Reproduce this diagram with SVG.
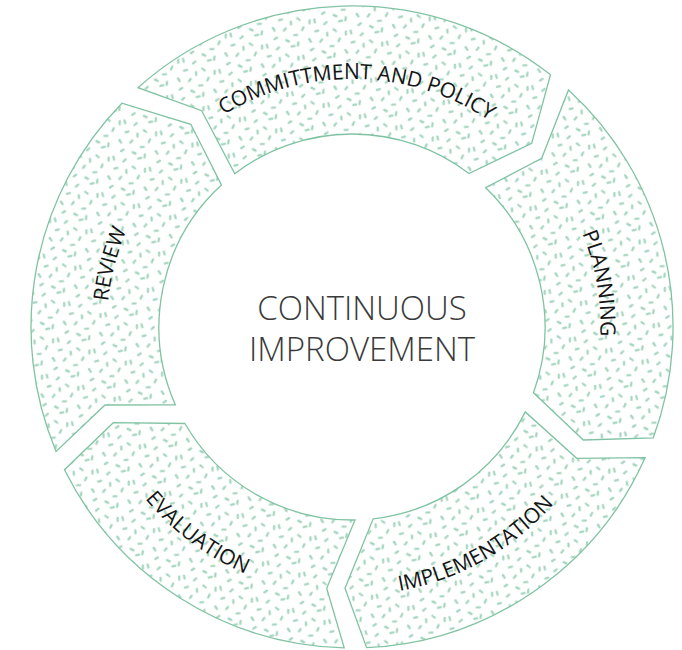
<svg xmlns="http://www.w3.org/2000/svg" xmlns:xlink="http://www.w3.org/1999/xlink" width="682" height="650" viewBox="0 0 682 650">
  <defs>
    <pattern id="speck" patternUnits="userSpaceOnUse" width="38" height="38" patternTransform="rotate(17)">
      <path d="M2.25 2.7 l1.5 2.6 M14.75 1.7 l-1.5 2.6 M23.6 6.5 l2.8 1.0 M32.26 13.5 l-0.52 2.95 M9.3 12.25 l-2.6 1.5 M18.5 11.6 l1.0 2.8 M28.4 22.5 l-2.8 1.0 M3.15 23.0 l2.3 1.93 M15.5 19.6 l-1.0 2.8 M19.5 30.75 l2.95 0.5 M9.95 30.85 l-1.93 2.3 M31.74 29.5 l0.52 2.95 M26.5 35.2 l2.6 -1.5 M36 5 l0.8 2.8" fill="none" stroke="#a6d6bf" stroke-width="2.3" stroke-linecap="round"/>
    </pattern>
    <path id="tp-commit" d="M105.5,300.2 A248,248 0 0 1 599.5,310.6"/>
    <path id="tp-plan" d="M330.4,79.9 A248,248 0 0 1 416.2,566.6"/>
    <path id="tp-impl" d="M131.1,478.8 A268,268 0 0 0 595.9,215.9"/>
    <path id="tp-eval" d="M123.4,185.2 A269,269 0 0 0 552.5,506.3"/>
    <path id="tp-rev" d="M269.8,557.8 A245,245 0 0 1 392.9,85.4"/>
  </defs>
  <style>
    .seg { fill: url(#speck); stroke: #80c3a3; stroke-width: 1.3; stroke-linejoin: miter; }
    .lbl { font-family: "Open Sans", "Liberation Sans", sans-serif; font-size: 21px; fill: #151515; }
    .center { font-family: "Open Sans", "Liberation Sans", sans-serif; font-size: 33px; font-weight: 300; fill: #3a3a3a; text-anchor: middle; }
  </style>
  <rect width="682" height="650" fill="#ffffff"/>

  <g id="commitment">
    <path class="seg" d="M138.0,87.7 A321,321 0 0 1 550.5,74.7 L531.7,143.3 L469.0,173.5 A193,193 0 0 0 234.8,173.7 L201.7,110.7 Z"/>
    <text class="lbl"><textPath xlink:href="#tp-commit" href="#tp-commit" startOffset="50%" text-anchor="middle">COMMITTMENT AND POLICY</textPath></text>
  </g>

  <g id="planning">
    <path class="seg" d="M568.5,89.9 A321,321 0 0 1 653.3,437.8 L583.3,440 L533.5,392.7 A193,193 0 0 0 485.6,187.7 L541.7,158.3 Z"/>
    <text class="lbl"><textPath xlink:href="#tp-plan" href="#tp-plan" startOffset="50%" text-anchor="middle">PLANNING</textPath></text>
  </g>

  <g id="implementation">
    <path class="seg" d="M645.2,457.6 A321,321 0 0 1 366.6,647.7 L345,588.3 L373.2,518.8 A193,193 0 0 0 525.3,411.9 L576.7,458.3 Z"/>
    <text class="lbl"><textPath xlink:href="#tp-impl" href="#tp-impl" startOffset="50%" text-anchor="middle">IMPLEMENTATION</textPath></text>
  </g>

  <g id="evaluation">
    <path class="seg" d="M344.2,647.9 A321,321 0 0 1 64.5,469.7 L113.3,422.7 L184.9,423.5 A193,193 0 0 0 355.0,520.0 L326.7,588.3 Z"/>
    <text class="lbl"><textPath xlink:href="#tp-eval" href="#tp-eval" startOffset="50%" text-anchor="middle">EVALUATION</textPath></text>
  </g>

  <g id="review">
    <path class="seg" d="M56.1,451.4 A321,321 0 0 1 121.9,103.2 L190.8,124.3 L221.4,184.9 A193,193 0 0 0 175.4,404.9 L105,405 Z"/>
    <text class="lbl"><textPath xlink:href="#tp-rev" href="#tp-rev" startOffset="50%" text-anchor="middle">REVIEW</textPath></text>
  </g>

  <g id="center">
    <text class="center" x="362" y="320">CONTINUOUS</text>
    <text class="center" x="362" y="361">IMPROVEMENT</text>
  </g>
</svg>
